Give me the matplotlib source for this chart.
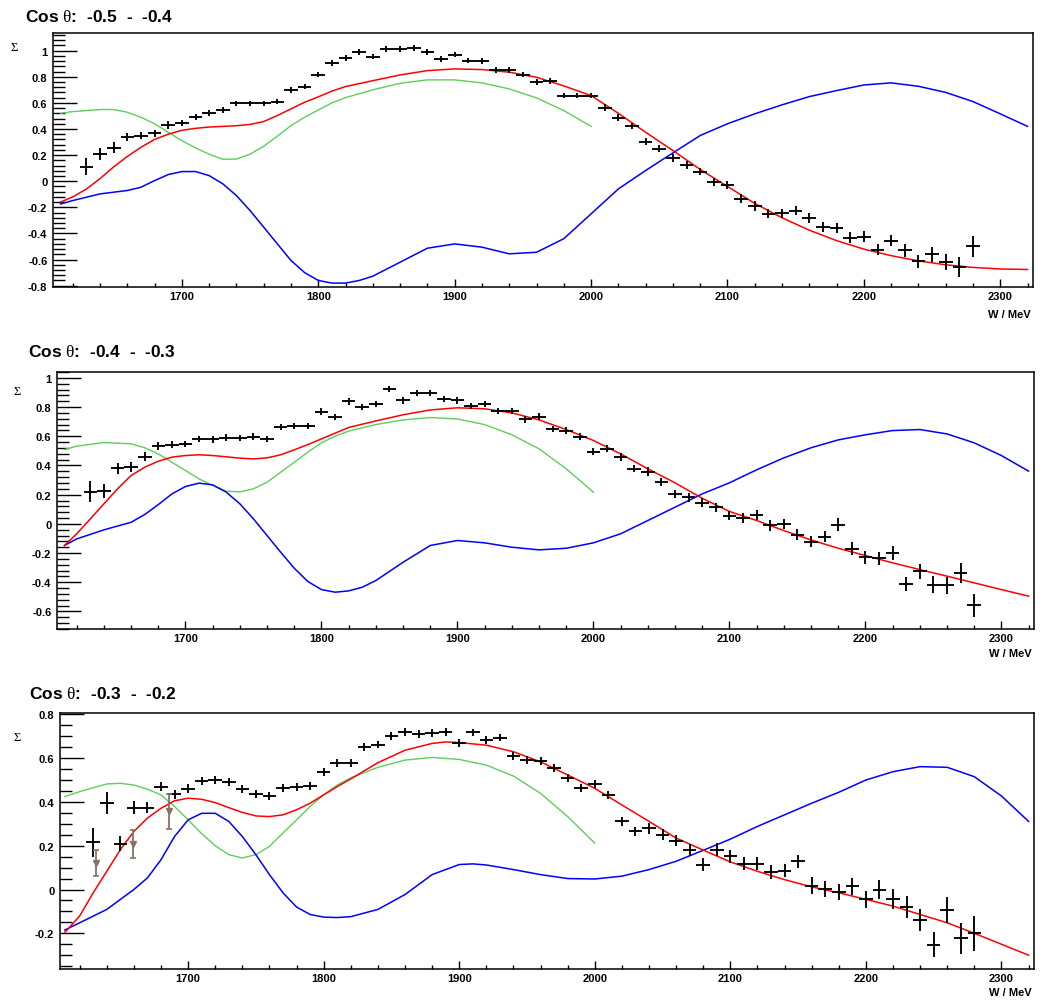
import matplotlib
matplotlib.use("Agg")
import matplotlib.pyplot as plt
from matplotlib.ticker import MultipleLocator, FuncFormatter

plt.rcParams["font.family"] = ["Liberation Sans", "DejaVu Sans"]
plt.rcParams["mathtext.fontset"] = "custom"
plt.rcParams["mathtext.rm"] = "Liberation Serif"

# ---------------------------------------------------------------- data
energy = [1630, 1640, 1650, 1660, 1670, 1680, 1690, 1700, 1710, 1720,
          1730, 1740, 1750, 1760, 1770, 1780, 1790, 1800, 1810, 1820,
          1830, 1840, 1850, 1860, 1870, 1880, 1890, 1900, 1910, 1920,
          1930, 1940, 1950, 1960, 1970, 1980, 1990, 2000, 2010, 2020,
          2030, 2040, 2050, 2060, 2070, 2080, 2090, 2100, 2110, 2120,
          2130, 2140, 2150, 2160, 2170, 2180, 2190, 2200, 2210, 2220,
          2230, 2240, 2250, 2260, 2270, 2280]

# cos(theta) bin -0.5 .. -0.4
sigma_a = [0.112, 0.21, 0.255, 0.337, 0.35, 0.367, 0.43, 0.447, 0.49, 0.523,
           0.546, 0.597, 0.597, 0.597, 0.61, 0.70, 0.725, 0.817, 0.903, 0.944,
           0.988, 0.955, 1.013, 1.013, 1.021, 0.988, 0.937, 0.97, 0.924, 0.919,
           0.852, 0.852, 0.817, 0.758, 0.766, 0.656, 0.656, 0.656, 0.564, 0.487,
           0.424, 0.304, 0.248, 0.181, 0.125, 0.074, -0.003, -0.028, -0.135, -0.19,
           -0.25, -0.245, -0.225, -0.28, -0.352, -0.36, -0.434, -0.424, -0.523, -0.454,
           -0.53, -0.612, -0.56, -0.62, -0.658, -0.498]
err_a = [0.066, 0.047, 0.042, 0.030, 0.028, 0.028, 0.028, 0.025, 0.022, 0.022,
         0.020, 0.020, 0.020, 0.020, 0.020, 0.022, 0.022, 0.022, 0.022, 0.022,
         0.022, 0.022, 0.022, 0.022, 0.022, 0.022, 0.022, 0.022, 0.022, 0.022,
         0.022, 0.022, 0.022, 0.022, 0.022, 0.022, 0.022, 0.022, 0.025, 0.025,
         0.025, 0.028, 0.028, 0.030, 0.030, 0.030, 0.030, 0.032, 0.035, 0.035,
         0.035, 0.035, 0.035, 0.038, 0.040, 0.040, 0.042, 0.042, 0.045, 0.045,
         0.048, 0.050, 0.057, 0.060, 0.077, 0.080]

# cos(theta) bin -0.4 .. -0.3
sigma_b = [0.221, 0.226, 0.381, 0.39, 0.459, 0.534, 0.543, 0.548, 0.582, 0.578,
           0.591, 0.587, 0.598, 0.582, 0.662, 0.669, 0.669, 0.769, 0.731, 0.838,
           0.80, 0.822, 0.925, 0.845, 0.895, 0.895, 0.856, 0.845, 0.806, 0.822,
           0.772, 0.772, 0.715, 0.735, 0.651, 0.639, 0.598, 0.495, 0.514, 0.457,
           0.377, 0.358, 0.285, 0.205, 0.183, 0.144, 0.114, 0.057, 0.041, 0.062,
           -0.011, 0.0, -0.075, -0.121, -0.087, -0.007, -0.171, -0.228, -0.235, -0.2,
           -0.411, -0.326, -0.418, -0.422, -0.338, -0.559]
err_b = [0.070, 0.050, 0.038, 0.035, 0.030, 0.025, 0.022, 0.022, 0.022, 0.022,
         0.022, 0.022, 0.022, 0.022, 0.022, 0.022, 0.022, 0.022, 0.022, 0.022,
         0.022, 0.022, 0.022, 0.022, 0.022, 0.022, 0.022, 0.022, 0.022, 0.022,
         0.022, 0.022, 0.022, 0.022, 0.022, 0.022, 0.022, 0.022, 0.025, 0.025,
         0.025, 0.028, 0.028, 0.030, 0.030, 0.030, 0.032, 0.032, 0.035, 0.035,
         0.035, 0.035, 0.038, 0.040, 0.040, 0.045, 0.045, 0.045, 0.045, 0.045,
         0.050, 0.054, 0.058, 0.060, 0.070, 0.082]

# cos(theta) bin -0.3 .. -0.2
sigma_c = [0.215, 0.394, 0.209, 0.374, 0.374, 0.47, 0.435, 0.46, 0.495, 0.50,
           0.492, 0.459, 0.438, 0.427, 0.462, 0.467, 0.473, 0.535, 0.579, 0.579,
           0.652, 0.662, 0.70, 0.72, 0.709, 0.715, 0.72, 0.667, 0.717, 0.682,
           0.694, 0.611, 0.591, 0.586, 0.553, 0.511, 0.465, 0.482, 0.432, 0.311,
           0.265, 0.28, 0.25, 0.223, 0.182, 0.114, 0.182, 0.152, 0.117, 0.117,
           0.08, 0.086, 0.129, 0.018, 0.003, -0.012, 0.015, -0.045, 0.0, -0.042,
           -0.08, -0.139, -0.253, -0.095, -0.223, -0.2]
err_c = [0.068, 0.050, 0.034, 0.028, 0.025, 0.022, 0.020, 0.020, 0.018, 0.018,
         0.018, 0.018, 0.018, 0.018, 0.018, 0.018, 0.018, 0.018, 0.018, 0.018,
         0.018, 0.018, 0.018, 0.018, 0.018, 0.018, 0.018, 0.018, 0.018, 0.018,
         0.018, 0.018, 0.018, 0.018, 0.018, 0.018, 0.018, 0.018, 0.020, 0.022,
         0.022, 0.025, 0.025, 0.025, 0.028, 0.028, 0.030, 0.030, 0.030, 0.030,
         0.030, 0.030, 0.030, 0.038, 0.038, 0.038, 0.038, 0.040, 0.042, 0.045,
         0.050, 0.051, 0.057, 0.060, 0.072, 0.080]

# older measurement in the -0.3 .. -0.2 bin
old_energy = [1632, 1659, 1686]
old_sigma = [0.12, 0.208, 0.357]
old_err = [0.06, 0.064, 0.08]

# model curves: full solution (red), variant fits (green, blue)
red_w_a = [1611, 1620, 1630, 1640, 1650, 1660, 1670, 1680, 1690, 1700, 1710, 1720,
           1730, 1740, 1750, 1760, 1770, 1780, 1790, 1800, 1810, 1820, 1840, 1860,
           1880, 1900, 1920, 1940, 1960, 1980, 2000, 2020, 2040, 2060, 2080, 2100,
           2120, 2140, 2160, 2180, 2200, 2220, 2240, 2260, 2280, 2300, 2320]
red_a = [-0.16, -0.12, -0.06, 0.02, 0.11, 0.19, 0.26, 0.32, 0.36, 0.39, 0.405, 0.415,
         0.42, 0.425, 0.435, 0.457, 0.503, 0.554, 0.605, 0.646, 0.69, 0.725, 0.77, 0.814,
         0.847, 0.86, 0.855, 0.835, 0.796, 0.73, 0.656, 0.52, 0.375, 0.235, 0.09, -0.04,
         -0.17, -0.28, -0.375, -0.455, -0.52, -0.57, -0.61, -0.64, -0.66, -0.672, -0.676]
green_w_a = [1611, 1620, 1640, 1650, 1660, 1670, 1680, 1690, 1700, 1710, 1720, 1730,
             1740, 1750, 1760, 1770, 1780, 1790, 1800, 1810, 1820, 1840, 1860, 1880,
             1900, 1920, 1940, 1960, 1980, 2000]
green_a = [0.52, 0.533, 0.549, 0.549, 0.528, 0.49, 0.44, 0.375, 0.31, 0.255, 0.207, 0.168,
           0.17, 0.207, 0.268, 0.345, 0.426, 0.49, 0.546, 0.60, 0.64, 0.70, 0.75, 0.776,
           0.776, 0.753, 0.707, 0.638, 0.541, 0.42]
blue_w_a = [1611, 1620, 1640, 1660, 1670, 1680, 1690, 1700, 1710, 1720, 1730, 1740,
            1750, 1760, 1770, 1780, 1790, 1800, 1810, 1820, 1830, 1840, 1860, 1880,
            1900, 1920, 1940, 1960, 1980, 2000, 2020, 2040, 2060, 2080, 2100, 2120,
            2140, 2160, 2180, 2200, 2220, 2240, 2260, 2280, 2300, 2320]
blue_a = [-0.174, -0.148, -0.097, -0.071, -0.046, 0.005, 0.051, 0.074, 0.074, 0.043, -0.02, -0.11,
          -0.225, -0.352, -0.48, -0.607, -0.70, -0.76, -0.78, -0.78, -0.76, -0.727, -0.62, -0.513,
          -0.48, -0.505, -0.556, -0.544, -0.44, -0.25, -0.059, 0.082, 0.217, 0.35, 0.44, 0.516,
          0.585, 0.648, 0.694, 0.737, 0.753, 0.727, 0.68, 0.61, 0.516, 0.42]

red_w_b = [1611, 1620, 1630, 1640, 1650, 1660, 1670, 1680, 1690, 1700, 1710, 1720,
           1730, 1740, 1750, 1760, 1770, 1780, 1790, 1800, 1810, 1820, 1840, 1860,
           1880, 1900, 1920, 1940, 1960, 1980, 2000, 2020, 2040, 2060, 2080, 2100,
           2120, 2140, 2160, 2180, 2200, 2220, 2240, 2260, 2280, 2300, 2320]
red_b = [-0.148, -0.068, 0.034, 0.137, 0.24, 0.331, 0.388, 0.429, 0.457, 0.468, 0.473, 0.468,
         0.459, 0.45, 0.445, 0.452, 0.473, 0.507, 0.543, 0.582, 0.621, 0.66, 0.705, 0.747,
         0.78, 0.795, 0.788, 0.76, 0.712, 0.646, 0.571, 0.479, 0.377, 0.281, 0.175, 0.085,
         0.023, -0.046, -0.11, -0.167, -0.217, -0.267, -0.313, -0.358, -0.404, -0.45, -0.495]
green_w_b = [1611, 1620, 1640, 1660, 1670, 1680, 1690, 1700, 1710, 1720, 1730, 1740,
             1750, 1760, 1770, 1780, 1790, 1800, 1810, 1820, 1840, 1860, 1880, 1900,
             1920, 1940, 1960, 1980, 2000]
green_b = [0.509, 0.532, 0.557, 0.548, 0.521, 0.479, 0.422, 0.365, 0.308, 0.263, 0.224, 0.219,
           0.24, 0.285, 0.354, 0.422, 0.491, 0.555, 0.60, 0.635, 0.68, 0.712, 0.728, 0.718,
           0.68, 0.61, 0.514, 0.377, 0.217]
blue_w_b = [1611, 1620, 1640, 1660, 1670, 1680, 1690, 1700, 1710, 1720, 1730, 1740,
            1750, 1760, 1770, 1780, 1790, 1800, 1810, 1820, 1830, 1840, 1860, 1880,
            1900, 1920, 1940, 1960, 1980, 2000, 2020, 2040, 2060, 2080, 2100, 2120,
            2140, 2160, 2180, 2200, 2220, 2240, 2260, 2280, 2300, 2320]
blue_b = [-0.148, -0.103, -0.041, 0.011, 0.064, 0.132, 0.205, 0.256, 0.279, 0.267, 0.217, 0.137,
          0.034, -0.08, -0.194, -0.304, -0.395, -0.45, -0.468, -0.459, -0.434, -0.388, -0.263, -0.148,
          -0.114, -0.13, -0.16, -0.178, -0.167, -0.13, -0.068, 0.023, 0.114, 0.205, 0.281, 0.37,
          0.452, 0.521, 0.575, 0.61, 0.639, 0.646, 0.616, 0.555, 0.468, 0.361]

red_w_c = [1609, 1620, 1630, 1640, 1650, 1660, 1670, 1680, 1690, 1700, 1710, 1720,
           1730, 1740, 1750, 1760, 1770, 1780, 1790, 1800, 1810, 1820, 1840, 1860,
           1880, 1890, 1900, 1920, 1940, 1960, 1980, 2000, 2020, 2040, 2060, 2080,
           2100, 2120, 2140, 2160, 2180, 2200, 2220, 2240, 2260, 2280, 2300, 2320]
red_c = [-0.197, -0.121, -0.015, 0.083, 0.182, 0.265, 0.326, 0.371, 0.405, 0.417, 0.412, 0.397,
         0.374, 0.352, 0.336, 0.333, 0.341, 0.364, 0.394, 0.432, 0.47, 0.505, 0.579, 0.636,
         0.667, 0.674, 0.671, 0.659, 0.629, 0.583, 0.523, 0.462, 0.386, 0.311, 0.235, 0.18,
         0.126, 0.083, 0.045, 0.012, -0.015, -0.045, -0.076, -0.114, -0.152, -0.2, -0.25, -0.3]
green_w_c = [1609, 1620, 1640, 1650, 1660, 1670, 1680, 1690, 1700, 1710, 1720, 1730,
             1740, 1750, 1760, 1770, 1780, 1790, 1800, 1810, 1820, 1840, 1860, 1880,
             1900, 1920, 1940, 1960, 1980, 2000]
green_c = [0.424, 0.447, 0.482, 0.485, 0.477, 0.458, 0.432, 0.379, 0.318, 0.255, 0.20, 0.159,
           0.144, 0.159, 0.197, 0.258, 0.318, 0.379, 0.432, 0.477, 0.51, 0.558, 0.591, 0.603,
           0.594, 0.568, 0.518, 0.439, 0.333, 0.212]
blue_w_c = [1609, 1620, 1640, 1660, 1670, 1680, 1690, 1700, 1710, 1720, 1730, 1740,
            1750, 1760, 1770, 1780, 1790, 1800, 1810, 1820, 1840, 1860, 1880, 1900,
            1910, 1920, 1940, 1960, 1980, 2000, 2020, 2040, 2060, 2080, 2100, 2120,
            2140, 2160, 2180, 2200, 2220, 2240, 2260, 2280, 2300, 2320]
blue_c = [-0.185, -0.152, -0.091, 0.0, 0.053, 0.136, 0.242, 0.318, 0.348, 0.348, 0.311, 0.242,
          0.159, 0.068, -0.015, -0.08, -0.114, -0.126, -0.128, -0.124, -0.091, -0.023, 0.068, 0.114,
          0.117, 0.112, 0.091, 0.068, 0.05, 0.048, 0.061, 0.091, 0.129, 0.179, 0.23, 0.288,
          0.341, 0.394, 0.444, 0.50, 0.538, 0.561, 0.558, 0.515, 0.427, 0.311]

bin_titles = ["-0.5  -  -0.4", "-0.4  -  -0.3", "-0.3  -  -0.2"]

# ---------------------------------------------------------------- layout
FIG_W, FIG_H = 1042, 1003
RED, GREEN, BLUE = "#ff0000", "#5ccf5c", "#0000ff"
OLD = "#8a7263"


def fx(px):
    return px / FIG_W


def fy(py):
    return 1 - py / FIG_H


panels = [
    dict(frame=(53, 34, 1033, 288), ylim=(-0.81, 1.135), minor=0.04,
         title=(25, 21.5), sig=(14, 48), unit=(1031, 315),
         data=(sigma_a, err_a),
         curves=[(green_w_a, green_a, GREEN, 1.0), (blue_w_a, blue_a, BLUE, 1.1),
                 (red_w_a, red_a, RED, 1.1)]),
    dict(frame=(57, 373, 1034, 630), ylim=(-0.72, 1.04), minor=0.04,
         title=(28, 357), sig=(17, 392), unit=(1032, 654),
         data=(sigma_b, err_b),
         curves=[(green_w_b, green_b, GREEN, 1.0), (blue_w_b, blue_b, BLUE, 1.1),
                 (red_w_b, red_b, RED, 1.1)]),
    dict(frame=(60, 714, 1034, 970), ylim=(-0.363, 0.806), minor=0.05,
         title=(29, 699), sig=(17, 738), unit=(1032, 993),
         data=(sigma_c, err_c),
         curves=[(green_w_c, green_c, GREEN, 1.0), (blue_w_c, blue_c, BLUE, 1.1),
                 (red_w_c, red_c, RED, 1.1)]),
]

fig = plt.figure(figsize=(FIG_W / 100, FIG_H / 100), dpi=100)
tick_fmt = FuncFormatter(lambda v, _: f"{round(v, 3):g}" if abs(v) > 1e-9 else "0")

for i, p in enumerate(panels):
    l, t, r, b = p["frame"]
    ax = fig.add_axes([fx(l), fy(b), (r - l) / FIG_W, (b - t) / FIG_H])
    ax.set_xlim(1605.5, 2324)
    ax.set_ylim(*p["ylim"])

    for w, v, c, lw in p["curves"]:
        ax.plot(w, v, color=c, lw=lw, solid_joinstyle="round", zorder=2)

    s, e = p["data"]
    ax.errorbar(energy, s, xerr=5, yerr=e, fmt="none", ecolor="black",
                elinewidth=1.35, capsize=0, zorder=3)
    if i == 2:
        ax.errorbar(old_energy, old_sigma, yerr=old_err, fmt="v", color=OLD,
                    ms=4.5, elinewidth=1.3, capsize=2.2, capthick=1.2, zorder=4)

    ax.xaxis.set_major_locator(MultipleLocator(100))
    ax.xaxis.set_minor_locator(MultipleLocator(20))
    ax.yaxis.set_major_locator(MultipleLocator(0.2))
    ax.yaxis.set_minor_locator(MultipleLocator(p["minor"]))
    ax.yaxis.set_major_formatter(tick_fmt)
    ax.tick_params(axis="y", which="major", direction="in", length=17, width=1.0,
                   left=True, right=False, pad=4, labelsize=8)
    ax.tick_params(axis="y", which="minor", direction="in", length=8.5, width=1.0,
                   left=True, right=False)
    ax.tick_params(axis="x", which="major", direction="in", length=5.5, width=1.0,
                   bottom=True, top=False, pad=3, labelsize=8)
    ax.tick_params(axis="x", which="minor", direction="in", length=3, width=1.0,
                   bottom=True, top=False)
    for lab in ax.get_xticklabels() + ax.get_yticklabels():
        lab.set_fontweight("bold")
    for sp in ax.spines.values():
        sp.set_linewidth(1.1)

    tx, ty = p["title"]
    fig.text(fx(tx), fy(ty), r"Cos $\mathrm{θ}$:  " + bin_titles[i], fontsize=12.5,
             fontweight="bold", ha="left", va="baseline")
    sx, sy = p["sig"]
    fig.text(fx(sx), fy(sy), "Σ", fontsize=9, family="Liberation Serif",
             ha="center", va="center")
    ux, uy = p["unit"]
    fig.text(fx(ux), fy(uy), "W / MeV", fontsize=8, fontweight="bold",
             ha="right", va="center")

fig.savefig("out.png", dpi=100)
